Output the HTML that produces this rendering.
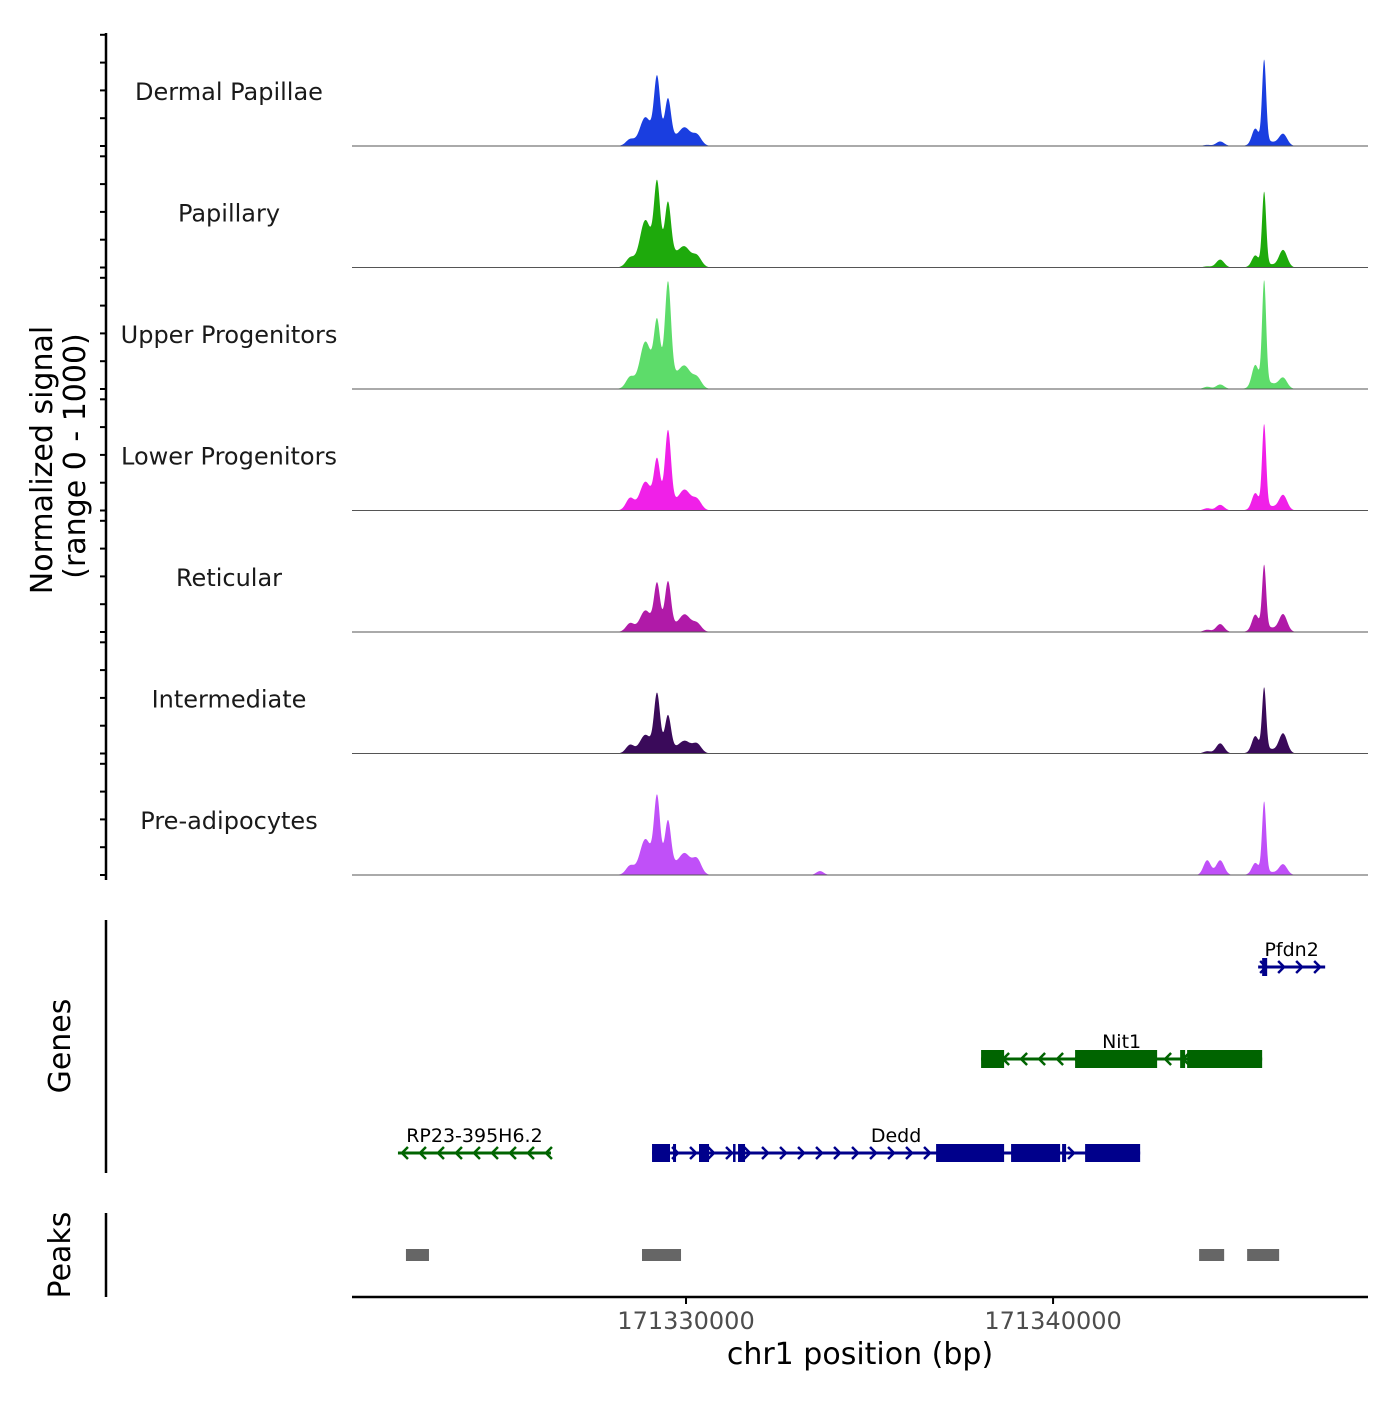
<!DOCTYPE html>
<html><head><meta charset="utf-8"><style>
html,body{margin:0;padding:0;background:#fff;}
svg text{font-family:"DejaVu Sans","Liberation Sans",sans-serif;}
</style></head><body>
<svg id="chart" width="1400" height="1400" viewBox="0 0 1400 1400" xmlns="http://www.w3.org/2000/svg">
<g id="tracks"></g>
<g id="genes"></g>
<g id="peaks"></g>
<g id="axes">
<line x1="106" y1="33" x2="106" y2="880" stroke="#000" stroke-width="2.5"/>
<line x1="106" y1="920" x2="106" y2="1173" stroke="#000" stroke-width="2.5"/>
<line x1="106" y1="1213" x2="106" y2="1297" stroke="#000" stroke-width="2.5"/>
<line x1="352" y1="1297" x2="1368" y2="1297" stroke="#000" stroke-width="2.5"/>
<text transform="translate(52,460) rotate(-90)" text-anchor="middle" font-size="30">Normalized signal</text>
<text transform="translate(85,456) rotate(-90)" text-anchor="middle" font-size="30">(range 0 - 1000)</text>
<text transform="translate(70,1046) rotate(-90)" text-anchor="middle" font-size="30">Genes</text>
<text transform="translate(70,1255) rotate(-90)" text-anchor="middle" font-size="30">Peaks</text>
<text x="860" y="1364" text-anchor="middle" font-size="30">chr1 position (bp)</text>
</g>
</svg>
<script>
const trackNames=["Dermal Papillae","Papillary","Upper Progenitors","Lower Progenitors","Reticular","Intermediate","Pre-adipocytes"];
const trackColors=["#1a3ee0","#1eaa0c","#5ddc6a","#f020e8","#b01aa8","#3a0a5a","#c050f8"];
const peakPositions=[171329210,171329510,171328883,171329973,171330300,171328474,171345750,171345505,171346268,171344552,171344198,171333650];
const peakWidths=[80,80,140,150,120,110,55,90,110,110,100,100];
const dermalPapillae=[520,330,200,130,90,50,720,130,100,40,10,0];
const papillary=[600,430,330,130,90,70,640,90,150,70,10,0];
const upperProgenitors=[450,800,330,150,90,90,900,180,90,40,20,0];
const lowerProgenitors=[360,620,200,150,90,100,720,130,130,50,20,0];
const reticular=[360,380,150,130,70,70,550,130,150,70,20,0];
const intermediate=[470,280,130,90,80,70,540,130,170,90,20,0];
const preAdipocytes=[580,370,250,150,130,70,620,90,90,130,130,35];
const trackValues=[dermalPapillae,papillary,upperProgenitors,lowerProgenitors,reticular,intermediate,preAdipocytes];
const xTicks=[171330000,171340000];
const xTickLabels=["171330000","171340000"];
const peakStarts=[171322370,171328801,171343979,171345287];
const peakEnds=[171322997,171329864,171344661,171346159];
const geneNames=["Pfdn2","Nit1","Dedd","RP23-395H6.2"];
const geneStarts=[171345587,171338039,171329074,171322152];
const geneEnds=[171347413,171345696,171342372,171326321];
const geneStrands=[1,-1,1,-1];
const geneRows=[0,1,2,2];
const geneColors=["#00008b","#006400","#00008b","#006400"];
const exonGene=[0,1,1,1,1,2,2,2,2,2,2,2,2,2];
const exonStarts=[171345696,171338039,171340600,171343462,171343652,171329074,171329646,171330354,171331281,171331417,171336813,171338856,171340246,171340873];
const exonEnds=[171345833,171338666,171342835,171343598,171345696,171329564,171329728,171330627,171331336,171331608,171338666,171340192,171340355,171342372];

const NS="http://www.w3.org/2000/svg";
const x0=352,x1=1368,d0=171320900,d1=171348580;
function xs(v){return x0+(v-d0)/(d1-d0)*(x1-x0);}
const trackH=113;
function base(i){return 146+121.5*i;}
function ys(v,i){return base(i)-v/1000*trackH;}
function mk(tag,attrs,parent){const e=document.createElementNS(NS,tag);for(const k in attrs)e.setAttribute(k,attrs[k]);parent.appendChild(e);return e;}
const T=document.getElementById('tracks'),G=document.getElementById('genes'),P=document.getElementById('peaks'),A=document.getElementById('axes');

trackValues.forEach((vals,i)=>{
  for(let k=0;k<5;k++){
    const t=mk('line',{x1:100,x2:106,y1:base(i)-k*27.8,y2:base(i)-k*27.8,stroke:'#000','stroke-width':2},A);
    
    
  }
  let d='M'+x0+','+base(i);
  for(let px=x0;px<=x1;px+=0.5){
    const bp=d0+(px-x0)/(x1-x0)*(d1-d0);
    let s=0;
    peakPositions.forEach((p,j)=>{const z=(bp-p)/peakWidths[j];s+=vals[j]*Math.exp(-z*z/2);});
    const z1=(bp-171329350)/420,z2=(bp-171345800)/260;
    s+=(vals[2]*0.5)*Math.exp(-z1*z1/2)+(vals[7]*0.35)*Math.exp(-z2*z2/2);
    s=Math.min(s,1000);
    d+=' L'+px.toFixed(1)+','+ys(s,i).toFixed(2);
  }
  d+=' L'+x1+','+base(i)+' Z';
  const a=mk('path',{d:d,fill:trackColors[i],stroke:'none'},T);
  
  
  const bl=mk('line',{x1:x0,x2:x1,y1:base(i),y2:base(i),stroke:'#555','stroke-width':1},T);
  
  
  const lab=mk('text',{x:229,y:base(i)-46,'text-anchor':'middle','font-size':24,fill:'#1a1a1a'},T);
  lab.textContent=trackNames[i];
  
  
});

const rowY=[967,1059,1153];
geneNames.forEach((n,g)=>{
  const y=rowY[geneRows[g]],c=geneColors[g],a=xs(geneStarts[g]),b=xs(geneEnds[g]);
  const ln=mk('line',{x1:a,x2:b,y1:y,y2:y,stroke:c,'stroke-width':3},G);
  
  
  for(let px=a+6;px<b-2;px+=18){
    const dir=geneStrands[g];
    const ch=mk('polyline',{points:(px-4*dir)+','+(y-6)+' '+(px+2*dir)+','+y+' '+(px-4*dir)+','+(y+6),fill:'none',stroke:c,'stroke-width':2.5},G);
    
    
  }
  const t=mk('text',{x:(a+b)/2,y:y-11,'text-anchor':'middle','font-size':19,fill:'#000'},G);
  t.textContent=n;
  
  
});
exonGene.forEach((g,k)=>{
  const y=rowY[geneRows[g]],a=xs(exonStarts[k]),b=xs(exonEnds[k]);
  const r=mk('rect',{x:a,y:y-9,width:Math.max(b-a,2.5),height:18,fill:geneColors[g]},G);
  
  
});

peakStarts.forEach((s,k)=>{
  const r=mk('rect',{x:xs(s),y:1249,width:xs(peakEnds[k])-xs(s),height:12,fill:'#666'},P);
  
  
});

xTicks.forEach((v,k)=>{
  const t=mk('line',{x1:xs(v),x2:xs(v),y1:1297,y2:1304,stroke:'#000','stroke-width':2},A);
  
  
  const l=mk('text',{x:xs(v),y:1329,'text-anchor':'middle','font-size':24,fill:'#4d4d4d'},A);
  l.textContent=xTickLabels[k];
  
  
});
</script>
</body></html>
